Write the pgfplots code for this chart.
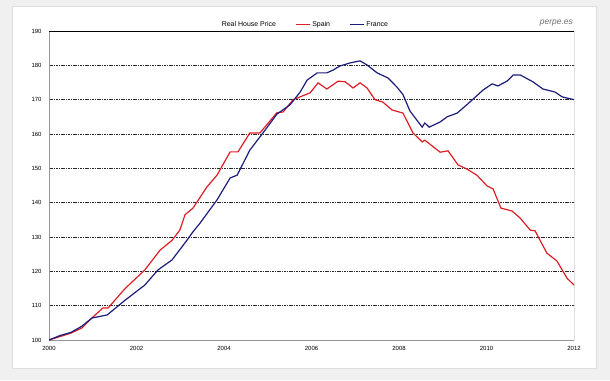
\documentclass[border=0pt]{standalone}
\usepackage{pgfplots}
\pgfplotsset{compat=1.18}
\usepackage{fontspec}
\setmainfont{Liberation Sans}
\definecolor{spain}{RGB}{222,30,38}
\definecolor{france}{RGB}{28,28,122}
\definecolor{outerbg}{RGB}{240,240,240}
\definecolor{panelborder}{RGB}{222,222,222}
\definecolor{axisgray}{RGB}{150,150,150}
\begin{document}
\begin{tikzpicture}[x=1bp,y=1bp]
\useasboundingbox (0,0) rectangle (610,380);
\fill[outerbg] (0,0) rectangle (610,380);
\fill[white, draw=panelborder, line width=1bp] (12,12) rectangle (596,373);
\begin{axis}[
  at={(49bp,40bp)}, anchor=south west,
  width=525bp, height=309bp, scale only axis,
  xmin=2000, xmax=2012, ymin=100, ymax=190,
  xtick={2000,2002,...,2012}, ytick={100,110,...,190},
  /pgf/number format/1000 sep={},
  /pgf/number format/assume math mode=true,
  tick label style={font=\fontsize{6}{7}\selectfont},
  major tick length=0pt,
  xticklabel style={yshift=-3bp},
  yticklabel style={xshift=-4bp},
  axis x line*=bottom, axis y line*=left,
  axis line style={draw=axisgray, line width=1bp, -},
  ymajorgrids,
  major grid style={black!85, line width=0.45bp, dash pattern=on 1.6bp off 0.8bp},
  legend columns=3,
  legend style={draw=none, fill=none, at={(axis description cs:0.325,1)}, anchor=south west, yshift=1bp,
    font=\fontsize{7}{8}\selectfont, inner sep=0pt,
    /tikz/every even column/.append style={column sep=17bp}},
  legend image code/.code={\draw[#1] (0bp,0bp) -- (14bp,0bp);},
]
\addlegendimage{empty legend}
\addlegendentry{Real House Price}
\addplot[spain, line width=1.2bp] table {
2000.00 100
2000.25 101
2000.50 102
2000.75 103.5
2000.98 106.4
2001.23 109.3
2001.35 109.3
2001.74 115
2002.19 120.4
2002.54 126.2
2002.81 129
2002.99 132
2003.11 136.5
2003.29 138.4
2003.61 144.6
2003.84 148
2004.14 154.8
2004.32 154.8
2004.59 160.3
2004.82 160.3
2005.21 166.2
2005.35 166.4
2005.58 170
2005.97 172
2006.15 174.9
2006.35 173.1
2006.61 175.4
2006.77 175.2
2006.95 173.4
2007.11 174.9
2007.27 173.4
2007.45 170
2007.63 169.3
2007.84 167
2008.09 166.1
2008.32 160.3
2008.53 157.7
2008.59 158.2
2008.94 154.7
2009.12 155.1
2009.35 151
2009.55 149.8
2009.78 148
2010.01 144.9
2010.15 144
2010.33 138.4
2010.58 137.6
2010.77 135.5
2011.00 132
2011.11 131.8
2011.38 125.3
2011.61 123
2011.84 118
2012.00 116
};
\addlegendentry{Spain}
\addplot[france, line width=1.2bp] table {
2000.00 100
2000.25 101.3
2000.50 102.2
2000.75 104
2000.98 106.4
2001.33 107.3
2001.74 111.6
2002.19 116
2002.49 120.4
2002.81 123.3
2003.15 129
2003.29 131.5
2003.45 134
2003.84 140.8
2004.14 147.2
2004.30 148
2004.59 155.3
2004.89 160.3
2005.21 165.8
2005.51 168.5
2005.74 172.2
2005.90 175.7
2006.13 177.8
2006.35 177.8
2006.49 178.6
2006.65 179.8
2006.88 180.7
2007.11 181.3
2007.27 180.1
2007.50 177.8
2007.75 176.3
2007.95 173.7
2008.09 171.5
2008.25 166.7
2008.53 162
2008.59 163.2
2008.69 162
2008.94 163.5
2009.10 165
2009.33 166.1
2009.62 169.3
2009.92 172.8
2010.13 174.6
2010.26 174
2010.47 175.4
2010.61 177.2
2010.77 177.2
2011.06 175.2
2011.29 173.1
2011.57 172.2
2011.73 170.8
2012.00 170
};
\addlegendentry{France}
\draw[black, line width=0.9bp] (rel axis cs:0,1) -- (rel axis cs:1,1) -- (rel axis cs:1,0);
\end{axis}
\node[anchor=east, font=\fontsize{8.5}{10}\itshape, text={rgb,255:red,110;green,110;blue,110}, inner sep=0pt] at (573,357) {perpe.es};
\end{tikzpicture}
\end{document}
